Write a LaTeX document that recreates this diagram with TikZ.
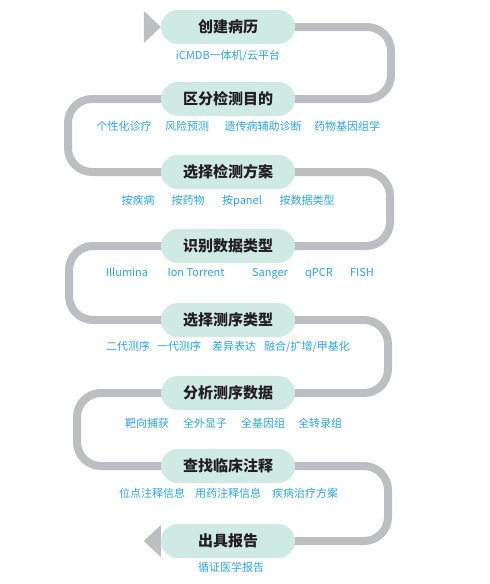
\documentclass[tikz,border=0pt]{standalone}
\usepackage{fontspec}
\usetikzlibrary{backgrounds}
\newfontfamily\cjk{Noto Sans CJK SC}
\definecolor{pillgreen}{HTML}{CEEAE3}
\definecolor{linegray}{HTML}{BDBEC2}
\definecolor{subblue}{HTML}{2AA5DF}
\definecolor{titleblack}{HTML}{231F20}
\begin{document}
\begin{tikzpicture}[x=1pt, y=-1pt,
	pill/.style={fill=pillgreen, rounded corners=17pt, minimum width=134pt, minimum height=34pt, text=titleblack, font=\cjk\bfseries\fontsize{15}{15}\selectfont},
	sub/.style={text=subblue, font=\cjk\fontsize{11}{12}\selectfont, inner sep=0pt, text height=8.5pt, text depth=2pt},
	snake/.style={linegray, line width=8pt, rounded corners=24pt}]
	  \useasboundingbox (0,0) rectangle (490,584);
	  % steps
	  \node[pill] (p1) at (228,27) {创建病历};
	  \node[pill] (p2) at (228,99) {区分检测目的};
	  \node[pill] (p3) at (228,172) {选择检测方案};
	  \node[pill] (p4) at (228,246) {识别数据类型};
	  \node[pill] (p5) at (228,320) {选择测序类型};
	  \node[pill] (p6) at (228,393) {分析测序数据};
	  \node[pill] (p7) at (228,466) {查找临床注释};
	  \node[pill] (p8) at (228,541) {出具报告};
	  % sub labels
	  \node[sub] (s11) at (228,56) {iCMDB一体机/云平台};
	  \node[sub] (s21) at (124,127) {个性化诊疗};
	  \node[sub] (s22) at (187,127) {风险预测};
	  \node[sub] (s23) at (263,127) {遗传病辅助诊断};
	  \node[sub] (s24) at (347,127) {药物基因组学};
	  \node[sub] (s31) at (138,201) {按疾病};
	  \node[sub] (s32) at (188,201) {按药物};
	  \node[sub] (s33) at (242,201) {按panel};
	  \node[sub] (s34) at (307,201) {按数据类型};
	  \node[sub] (s41) at (127,273) {Illumina};
	  \node[sub] (s42) at (196,273) {Ion Torrent};
	  \node[sub] (s43) at (270,273) {Sanger};
	  \node[sub] (s44) at (319,273) {qPCR};
	  \node[sub] (s45) at (362,273) {FISH};
	  \node[sub] (s51) at (128,347) {二代测序};
	  \node[sub] (s52) at (179,347) {一代测序};
	  \node[sub] (s53) at (234,347) {差异表达};
	  \node[sub] (s54) at (307,347) {融合/扩增/甲基化};
	  \node[sub] (s61) at (147,424) {靶向捕获};
	  \node[sub] (s62) at (205,424) {全外显子};
	  \node[sub] (s63) at (263,424) {全基因组};
	  \node[sub] (s64) at (320,424) {全转录组};
	  \node[sub] (s71) at (152,494) {位点注释信息};
	  \node[sub] (s72) at (228,494) {用药注释信息};
	  \node[sub] (s73) at (305,494) {疾病治疗方案};
	  \node[sub] (s81) at (231,568) {循证医学报告};
	  % turning columns
	  \coordinate (R1) at (391,0);
	  \coordinate (R2) at (390,0);
	  \coordinate (R3) at (388,0);
	  \coordinate (R4) at (388,0);
	  \coordinate (L1) at (68,0);
	  \coordinate (L2) at (69,0);
	  \coordinate (L3) at (77,0);
	  \begin{pgfonlayer}{background}
	  \draw[snake] (p1.center) -| (R1 |- p2.center) -- (p2.center)
	    -| (L1 |- p3.center) -- (p3.center)
	    -| (R2 |- p4.center) -- (p4.center)
	    -| (L2 |- p5.center) -- (p5.center)
	    -| (R3 |- p6.center) -- (p6.center)
	    -| (L3 |- p7.center) -- (p7.center)
	    -| (R4 |- p8.center) -- (p8.center);
	  \fill[linegray] (p1.west) ++(-17,-16) -- ++(0,32) -- (p1.west) -- cycle;
	  \fill[linegray] (p8.west) ++(0,-16) -- ++(0,32) -- ++(-17,-16) -- cycle;
	  \end{pgfonlayer}
	\end{tikzpicture}
\end{document}
